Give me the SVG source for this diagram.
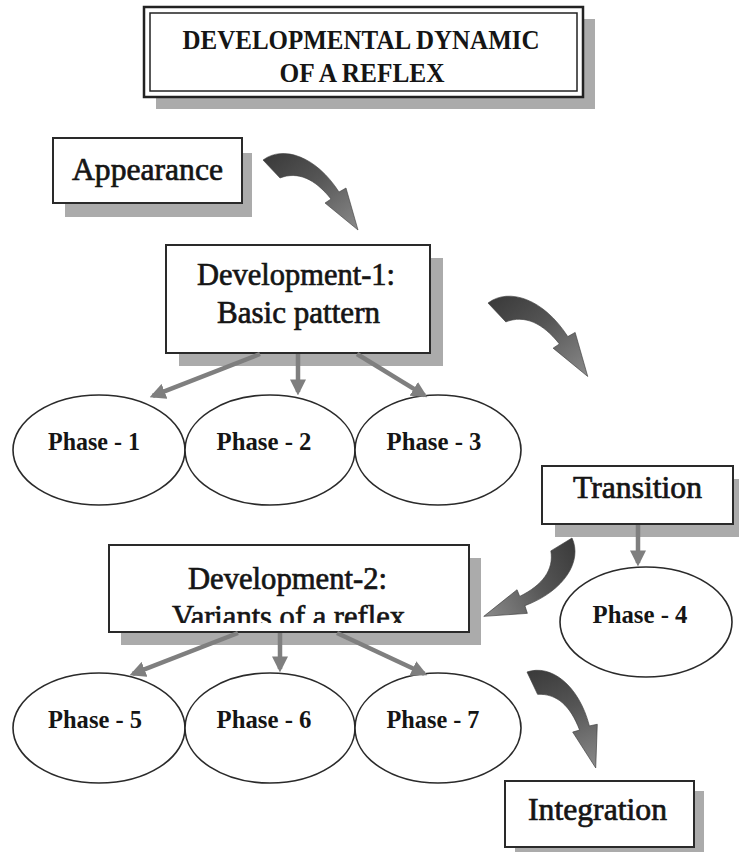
<svg xmlns="http://www.w3.org/2000/svg" width="739" height="852" viewBox="0 0 739 852">
<style>
.bg{fill:#ffffff}
.sh{fill:#ababab}
.box{fill:#ffffff;stroke:#2a2a2a;stroke-width:2}
.ell{fill:#ffffff;stroke:#2a2a2a;stroke-width:1.6}
.t{font-family:"Liberation Serif","Times New Roman",serif;font-weight:bold;fill:#151515;text-anchor:middle}
.lbl{font-size:32px;font-weight:normal;stroke:#151515;stroke-width:0.7}
.lbl2{font-size:31px}
.ph{font-size:25px}
.ttl{font-size:28px}
.con{stroke:#7f7f7f;stroke-width:4.5;fill:none;marker-end:url(#ah)}
.curve{fill:url(#cg);stroke:#3c3c3c;stroke-width:0.6}
</style>
<defs>
<marker id="ah" viewBox="0 0 14 14" markerWidth="16" markerHeight="16" markerUnits="userSpaceOnUse" refX="11" refY="7" orient="auto">
<path d="M0,0 L14,7 L0,14 z" fill="#7f7f7f"/>
</marker>
<linearGradient id="cg" x1="0" y1="0" x2="1" y2="1">
<stop offset="0" stop-color="#383838"/>
<stop offset="0.45" stop-color="#555555"/>
<stop offset="1" stop-color="#8a8a8a"/>
</linearGradient>
<path id="carrow" d="M 0 0 C 20 -15, 53 -4, 76 32 L 83 28 L 95 70 L 62 43 L 68 39 C 52 19, 35 11, 17 18 Z"/>
<clipPath id="clipDev2">
<rect x="109" y="545" width="360" height="78"/>
</clipPath>
</defs>
<rect class="bg" x="0" y="0" width="739" height="852"/>

<g id="title">
<rect class="sh" x="156" y="19" width="439" height="90"/>
<rect x="144" y="7" width="439" height="90" fill="#ffffff" stroke="#222" stroke-width="2.5"/>
<rect x="150" y="13" width="427" height="78" fill="none" stroke="#222" stroke-width="1.5"/>
<text class="t ttl" x="361" y="49" textLength="357" lengthAdjust="spacingAndGlyphs">DEVELOPMENTAL DYNAMIC</text>
<text class="t ttl" x="362" y="82" textLength="165" lengthAdjust="spacingAndGlyphs">OF A REFLEX</text>
</g>

<g id="appearance">
<rect class="sh" x="65" y="153" width="187" height="64"/>
<rect class="box" x="53" y="138" width="189" height="65"/>
<text class="t lbl" x="147.5" y="180" textLength="151" lengthAdjust="spacingAndGlyphs">Appearance</text>
</g>

<g id="dev1">
<rect class="sh" x="179" y="258" width="264" height="108"/>
<rect class="box" x="166" y="245" width="264" height="108"/>
<text class="t lbl" x="296" y="285" textLength="198" lengthAdjust="spacingAndGlyphs">Development-1:</text>
<text class="t lbl" x="298.5" y="323" textLength="163" lengthAdjust="spacingAndGlyphs">Basic pattern</text>
</g>

<g id="phase1">
<ellipse class="ell" cx="99" cy="450" rx="86" ry="55"/>
<text class="t ph" x="94" y="450" textLength="92" lengthAdjust="spacingAndGlyphs">Phase - 1</text>
</g>
<g id="phase2">
<ellipse class="ell" cx="270" cy="450" rx="85" ry="55"/>
<text class="t ph" x="264" y="450" textLength="95" lengthAdjust="spacingAndGlyphs">Phase - 2</text>
</g>
<g id="phase3">
<ellipse class="ell" cx="438" cy="450" rx="83" ry="55"/>
<text class="t ph" x="434" y="450" textLength="95" lengthAdjust="spacingAndGlyphs">Phase - 3</text>
</g>

<g id="transition">
<rect class="sh" x="555" y="479" width="191" height="58"/>
<rect class="box" x="542" y="466" width="191" height="58"/>
<text class="t lbl" x="637.5" y="498" textLength="129" lengthAdjust="spacingAndGlyphs">Transition</text>
</g>

<g id="phase4">
<ellipse class="ell" cx="646" cy="622" rx="86" ry="55"/>
<text class="t ph" x="640" y="623" textLength="95" lengthAdjust="spacingAndGlyphs">Phase - 4</text>
</g>

<g id="dev2">
<rect class="sh" x="121" y="558" width="360" height="87"/>
<rect class="box" x="109" y="545" width="360" height="87"/>
<text class="t lbl lbl2" x="287.5" y="589" textLength="199" lengthAdjust="spacingAndGlyphs">Development-2:</text>
<text class="t lbl lbl2" x="288.5" y="627" textLength="233" lengthAdjust="spacingAndGlyphs" clip-path="url(#clipDev2)">Variants of a reflex</text>
</g>

<g id="phase5">
<ellipse class="ell" cx="99" cy="728" rx="86" ry="55"/>
<text class="t ph" x="95" y="728" textLength="94" lengthAdjust="spacingAndGlyphs">Phase - 5</text>
</g>
<g id="phase6">
<ellipse class="ell" cx="270" cy="728" rx="85" ry="55"/>
<text class="t ph" x="264" y="728" textLength="95" lengthAdjust="spacingAndGlyphs">Phase - 6</text>
</g>
<g id="phase7">
<ellipse class="ell" cx="438" cy="728" rx="83" ry="55"/>
<text class="t ph" x="433" y="728" textLength="93" lengthAdjust="spacingAndGlyphs">Phase - 7</text>
</g>

<g id="integration">
<rect class="sh" x="515" y="791" width="189" height="66"/>
<rect class="box" x="505" y="781" width="189" height="66"/>
<text class="t lbl" x="597.5" y="820" textLength="139" lengthAdjust="spacingAndGlyphs">Integration</text>
</g>

<g id="connectors">
<line class="con" x1="260" y1="354" x2="152.8" y2="395.9"/>
<line class="con" x1="298" y1="354" x2="298" y2="392"/>
<line class="con" x1="357" y1="354" x2="424.5" y2="395.4"/>
<line class="con" x1="238" y1="633" x2="132.8" y2="673.9"/>
<line class="con" x1="280" y1="633" x2="280" y2="669"/>
<line class="con" x1="337" y1="633" x2="424.3" y2="673.7"/>
<line class="con" x1="638" y1="525" x2="638" y2="563"/>
<use href="#carrow" class="curve" transform="translate(263,160)"/>
<use href="#carrow" class="curve" transform="translate(488,303) scale(1.05)"/>
<use href="#carrow" class="curve" transform="translate(572,538) rotate(102)"/>
<use href="#carrow" class="curve" transform="translate(527,672) rotate(18)"/>
</g>
</svg>
